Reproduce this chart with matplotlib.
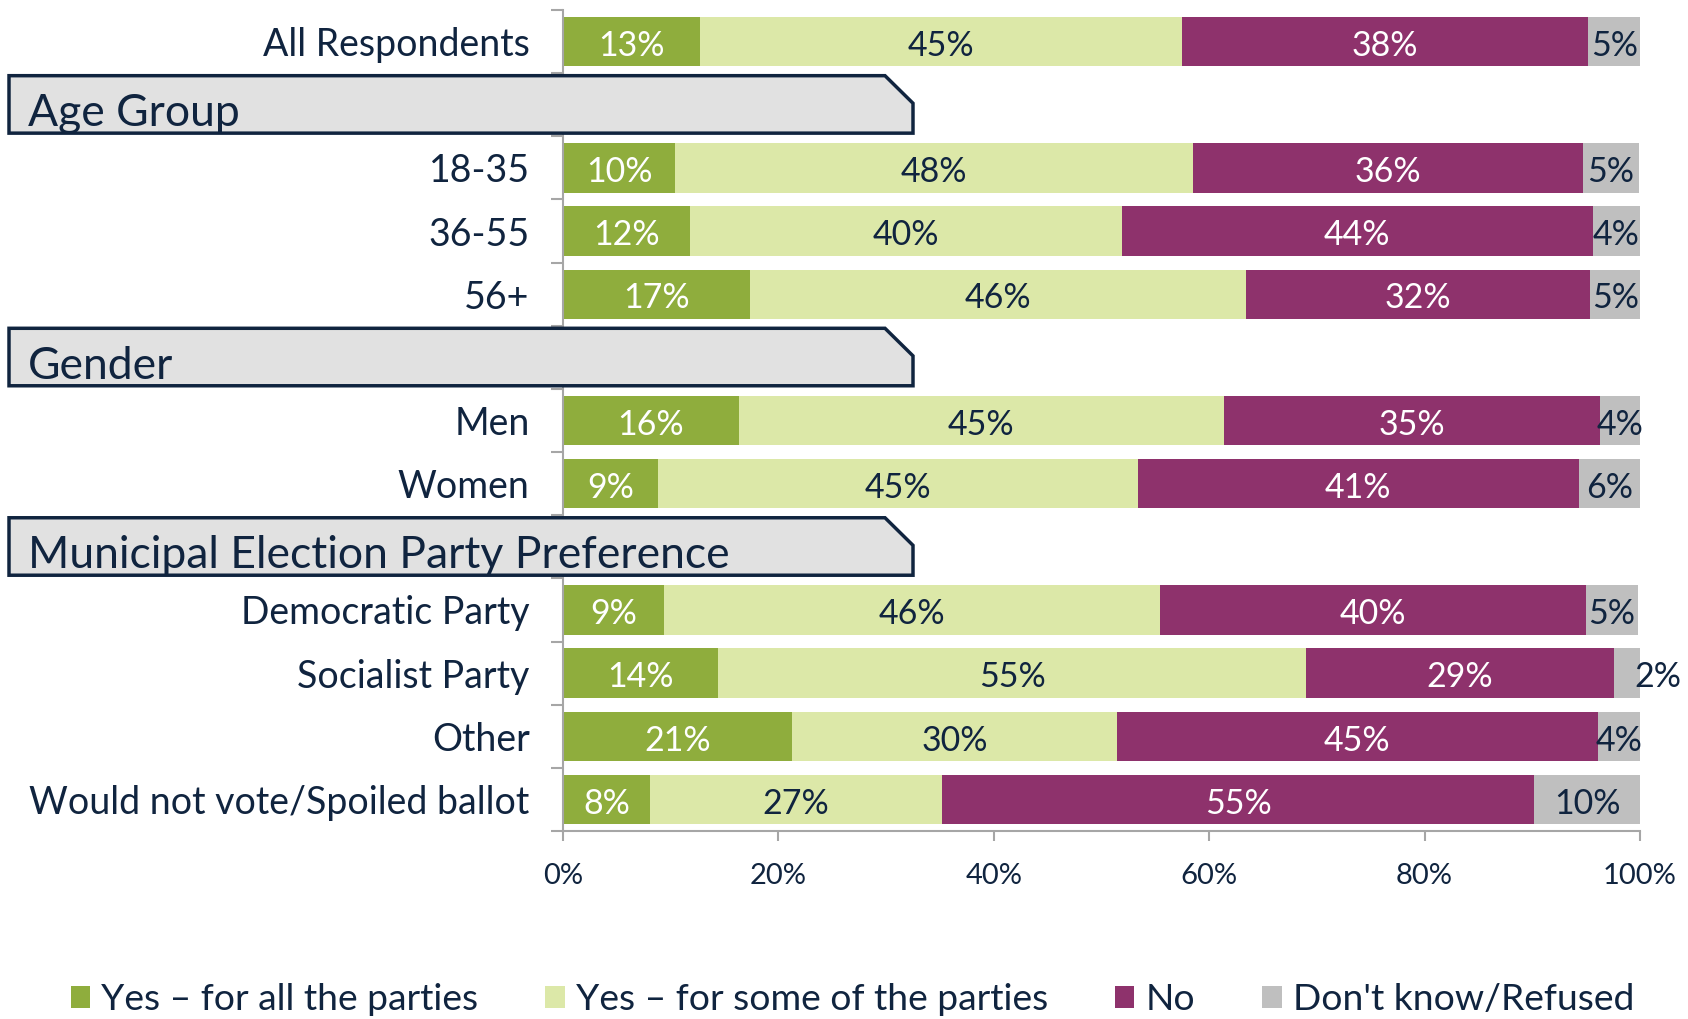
import matplotlib
matplotlib.use("Agg")
import matplotlib.pyplot as plt
from matplotlib.patches import Polygon, Patch
from matplotlib.transforms import blended_transform_factory
import numpy as np

plt.rcParams['font.family'] = ['Lato', 'DejaVu Sans']

# ---- data ----
rows = ["All Respondents", "@Age Group", "18-35", "36-55", "56+", "@Gender", "Men", "Women",
        "@Municipal Election Party Preference", "Democratic Party", "Socialist Party", "Other",
        "Would not vote/Spoiled ballot"]
yes_all  = [12.7, None, 10.4, 11.8, 17.4, None, 16.3, 8.8, None, 9.4, 14.4, 21.3, 8.1]
yes_some = [44.8, None, 48.1, 40.1, 46.0, None, 45.1, 44.6, None, 46.0, 54.6, 30.1, 27.1]
no       = [37.7, None, 36.2, 43.7, 32.0, None, 34.9, 40.9, None, 39.6, 28.6, 44.7, 55.0]
dk       = [4.8, None, 5.2, 4.4, 4.6, None, 3.7, 5.7, None, 4.8, 2.4, 3.9, 9.8]
series_names = ["Yes \u2013 for all the parties", "Yes \u2013 for some of the parties", "No",
                "Don't know/Refused"]
xticks = [0, 20, 40, 60, 80, 100]

colors = ["#8fad3d", "#dce8a8", "#8e326c", "#bfbfbf"]
text_colors = ["white", "#10243f", "white", "#10243f"]
navy = "#10243f"

W, H = 1688, 1019
fig = plt.figure(figsize=(W / 100, H / 100), dpi=100)
ax = fig.add_axes([563 / W, 1 - 831 / H, (1640 - 563) / W, (831 - 10) / H])

n = len(rows)
ypos = np.arange(n)
series = [yes_all, yes_some, no, dk]
bar_h = 0.78
VAL_FS = 24.5

for i, r in enumerate(rows):
    if r.startswith("@"):
        continue
    left = 0.0
    for s, vals in enumerate(series):
        v = vals[i]
        ax.barh(i, v, left=left, height=bar_h, color=colors[s], zorder=2)
        lab = f"{round(v):d}%"
        if v < 3:
            ax.text(left + v * 0.8, i + 0.02, lab, ha='left', va='center_baseline',
                    fontsize=VAL_FS, color=navy, zorder=4, clip_on=False)
        else:
            ax.text(left + v / 2, i + 0.02, lab, ha='center', va='center_baseline',
                    fontsize=VAL_FS, color=text_colors[s], zorder=4)
        left += v

ax.set_xlim(0, 100)
ax.set_ylim(n - 0.5, -0.5)

# y ticks
ax.set_yticks(ypos)
ax.set_yticklabels(["" if r.startswith("@") else r for r in rows], fontsize=27, color=navy)
ax.set_yticks(np.arange(-0.5, n, 1), minor=True)
ax.tick_params(axis='y', which='major', length=0, pad=24)
ax.tick_params(axis='y', which='minor', length=9, width=1.5, color="#a6a6a6")

ax.set_xticks(xticks)
ax.set_xticklabels([f"{t}%" for t in xticks], fontsize=21, color=navy)
ax.tick_params(axis='x', which='major', length=7, width=1.5, color="#a6a6a6", pad=16)

for sp in ["top", "right"]:
    ax.spines[sp].set_visible(False)
for sp in ["left", "bottom"]:
    ax.spines[sp].set_color("#a6a6a6")
    ax.spines[sp].set_linewidth(1.5)

# header boxes
trans = blended_transform_factory(fig.transFigure, ax.transData)
x0, x1, xc = 9 / W, 913 / W, 885 / W
for i, r in enumerate(rows):
    if not r.startswith("@"):
        continue
    top, bot = i - 0.46, i + 0.45
    mid = top + (bot - top) * 0.48
    poly = Polygon([(x0, top), (xc, top), (x1, mid), (x1, bot), (x0, bot)], closed=True,
                   transform=trans, facecolor="#e1e1e1", edgecolor=navy, linewidth=2.5,
                   zorder=10, clip_on=False)
    fig.add_artist(poly)
    t = fig.text(28 / W, 0, r[1:], transform=trans, fontsize=32, color=navy, ha='left',
                 va='baseline', zorder=11)
    t.set_position((28 / W, i + 0.34))

# legend
handles = [Patch(facecolor=c, edgecolor='none') for c in colors]
leg = fig.legend(handles, series_names, loc='center', bbox_to_anchor=(0.505, 1 - 1000 / H),
                 ncol=4, frameon=False, fontsize=26.8, handlelength=0.52, handleheight=0.52,
                 handletextpad=0.3, columnspacing=1.8)
for t in leg.get_texts():
    t.set_color(navy)

fig.savefig("out.png", dpi=100)
